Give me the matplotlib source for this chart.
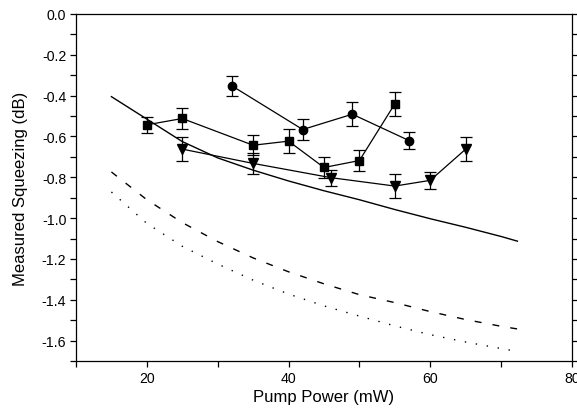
import matplotlib
matplotlib.use("Agg")
import matplotlib.pyplot as plt
from matplotlib.ticker import MultipleLocator

plt.rcParams['font.family'] = ['Liberation Sans', 'DejaVu Sans']

# Measured data
circ_x = [32, 42, 49, 57]
circ_y = [-0.352, -0.566, -0.491, -0.62]
circ_e = [0.05, 0.05, 0.06, 0.04]

sq_x = [20, 25, 35, 40, 45, 50, 55]
sq_y = [-0.543, -0.512, -0.643, -0.623, -0.752, -0.718, -0.44]
sq_e = [0.04, 0.05, 0.05, 0.06, 0.05, 0.05, 0.06]

tri_x = [25, 35, 46, 55, 60, 65]
tri_y = [-0.662, -0.732, -0.802, -0.843, -0.815, -0.662]
tri_e = [0.06, 0.05, 0.04, 0.06, 0.04, 0.06]

# Theory curves
th_x = [15, 20, 25, 30, 35, 40, 45, 50, 55, 60, 65, 70, 72.3]
solid_y = [-0.405, -0.515, -0.625, -0.705, -0.765, -0.818, -0.866, -0.91,
           -0.958, -1.003, -1.045, -1.09, -1.113]
dash_y = [-0.774, -0.91, -1.022, -1.115, -1.195, -1.263, -1.322, -1.375,
          -1.414, -1.458, -1.497, -1.530, -1.543]
dot_y = [-0.872, -1.026, -1.138, -1.225, -1.304, -1.372, -1.430, -1.480,
         -1.528, -1.571, -1.607, -1.639, -1.653]

fig = plt.figure(figsize=(5.77, 4.14), dpi=100)
ax = fig.add_axes([0.1317, 0.1256, 0.8596, 0.8382])

ax.plot(th_x, solid_y, color='black', lw=1.0)
ax.plot(th_x, dash_y, color='black', lw=1.0, dashes=(5, 8))
ax.plot(th_x, dot_y, color='black', lw=1.0, dashes=(1, 7))

kw = dict(color='black', ecolor='black', lw=0.9, elinewidth=0.9,
          capsize=4, capthick=0.9)
ax.errorbar(circ_x, circ_y, yerr=circ_e, marker='o', ms=6, **kw)
ax.errorbar(sq_x, sq_y, yerr=sq_e, marker='s', ms=5.5, **kw)
ax.errorbar(tri_x, tri_y, yerr=tri_e, marker='v', ms=7, **kw)

ax.set_xlim(10, 80)
ax.set_ylim(-1.7, 0.0)
ax.xaxis.set_major_locator(MultipleLocator(20))
ax.xaxis.set_minor_locator(MultipleLocator(10))
ax.yaxis.set_major_locator(MultipleLocator(0.2))
ax.yaxis.set_minor_locator(MultipleLocator(0.1))
ax.set_xticks([20, 40, 60, 80])
ax.set_xticklabels(['20', '40', '60', '80'])
ax.yaxis.set_major_formatter(plt.FuncFormatter(lambda v, p: f"{v:.1f}" if abs(v) > 1e-9 else "0.0"))

ax.tick_params(axis='both', which='both', direction='out', length=4, width=0.9,
               labelsize=10.2, pad=3)
ax.tick_params(axis='y', which='both', right=True, labelright=False)
ax.tick_params(axis='x', which='both', top=False)
for s in ax.spines.values():
    s.set_linewidth(0.9)

ax.set_xlabel('Pump Power (mW)', fontsize=12, labelpad=3)
ax.set_ylabel('Measured Squeezing (dB)', fontsize=12, labelpad=10)

fig.savefig('out.png', dpi=100)
